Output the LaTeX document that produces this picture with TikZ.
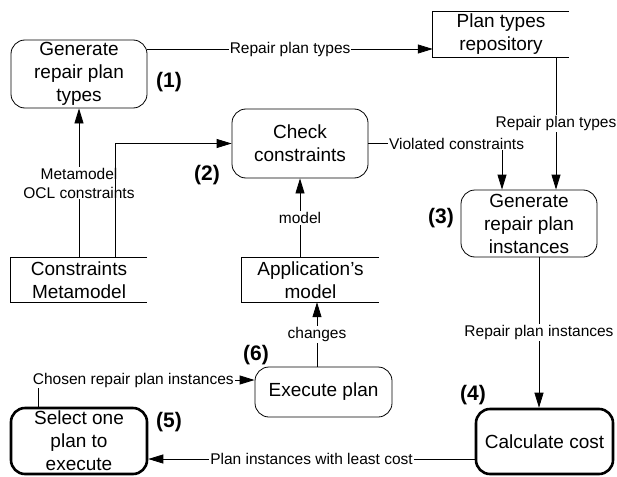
\documentclass[tikz,border=0pt]{standalone}
\usepackage{fontspec}
\setmainfont{Liberation Sans}
\usetikzlibrary{arrows.meta,calc}
\begin{document}
\begin{tikzpicture}[x=1pt,y=-1pt,
  proc/.style={draw,line width=0.8pt,rounded corners=14pt,inner sep=0pt,align=center,
    font=\fontsize{19}{23}\selectfont},
  bold proc/.style={proc,line width=2.6pt},
  store/.style={inner sep=0pt,align=center,font=\fontsize{19}{23}\selectfont},
  storeline/.style={line width=0.8pt},
  arr/.style={line width=0.8pt,-{Triangle[length=15pt,width=9pt]}},
  lbl/.style={fill=white,inner sep=1pt,align=center,font=\fontsize{15.5}{19}\selectfont},
  num/.style={font=\fontsize{21}{24}\selectfont\bfseries,inner sep=0pt}]
\useasboundingbox (0,0) rectangle (617,476);

% process nodes
\node[proc,minimum width=136pt,minimum height=68pt] (g1) at (79,74) {Generate\\repair plan\\types};
\node[proc,minimum width=136pt,minimum height=69pt] (chk) at (300,143.5) {Check\\constraints};
\node[proc,minimum width=136pt,minimum height=67pt] (inst) at (529,223.5) {Generate\\repair plan\\instances};
\node[proc,minimum width=137pt,minimum height=50pt] (exe) at (323.5,392) {Execute plan};
\node[bold proc,minimum width=136pt,minimum height=66pt] (sel) at (79,441) {Select one\\plan to\\execute};
\node[bold proc,minimum width=137pt,minimum height=65pt] (calc) at (544.5,441.5) {Calculate cost};

% data stores
\node[store,minimum width=136pt,minimum height=45pt] (pt) at (501,34.5) {Plan types\\repository};
\draw[storeline] (pt.north east) -- (pt.north west) -- (pt.south west) -- (pt.south east);
\node[store,minimum width=136pt,minimum height=44pt] (cm) at (79,280) {Constraints\\Metamodel};
\draw[storeline] (cm.north east) -- (cm.north west) -- (cm.south west) -- (cm.south east);
\node[store,minimum width=137pt,minimum height=44pt] (am) at (310.5,280) {Application’s\\model};
\draw[storeline] (am.north east) -- (am.north west) -- (am.south west) -- (am.south east);

% step numbers
\node[num] (n1) at (169,82) {(1)};
\node[num] (n2) at (207,175) {(2)};
\node[num] (n3) at (441,218) {(3)};
\node[num] (n4) at (473,395) {(4)};
\node[num] (n5) at (169,422) {(5)};
\node[num] (n6) at (256,355) {(6)};

% helper coordinates
\coordinate (c1) at ([yshift=25pt]g1.east);
\coordinate (c2) at ([xshift=36pt]cm.north);
\coordinate (c3) at ([xshift=-27pt]inst.north);
\coordinate (c4) at ([xshift=27pt]inst.north);
\coordinate (c5) at ([xshift=10pt]inst.south);
\coordinate (c6) at ([yshift=-17.5pt]calc.west);
\coordinate (c7) at ([xshift=-41pt]sel.north);
\coordinate (c8) at ([yshift=12pt]exe.west);
\coordinate (c9) at ([xshift=-6.5pt]exe.north);

% connectors
\draw[arr] (c1) -- (c1 -| pt.west) node[lbl,midway] {Repair plan types};
\draw[arr] (cm.north) -- (g1.south) node[lbl,midway] {Metamodel\\OCL constraints};
\draw[arr] (c2) |- (chk.west);
\draw[arr] (am.north -| chk.south) -- (chk.south) node[lbl,midway] {model};
\draw[arr] (chk.east) -| (c3) node[lbl,pos=0.33] {Violated constraints};
\draw[arr] (c4 |- pt.south) -- (c4) node[lbl,midway] {Repair plan types};
\draw[arr] (c5) -- (c5 |- calc.north) node[lbl,midway] {Repair plan instances};
\draw[arr] (c6) -- (c6 -| sel.east) node[lbl,midway] {Plan instances with least cost};
\draw[arr] (c7) |- (c8) node[lbl,pos=0.72] {Chosen repair plan instances};
\draw[arr] (c9) -- (c9 |- am.south) node[lbl,midway] {changes};
\end{tikzpicture}
\end{document}
